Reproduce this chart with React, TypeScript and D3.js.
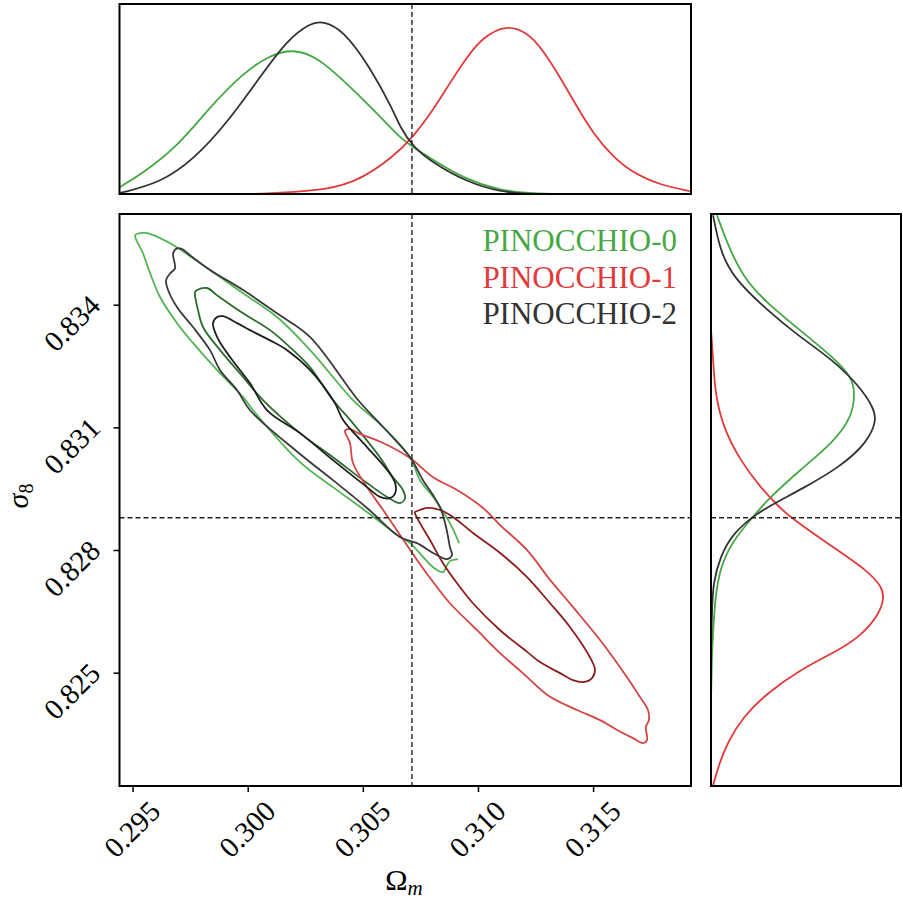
import React from "react";
import * as d3 from "d3";

// reference cosmology (dashed lines)
const omegaTrue = 0.30711;
const sigmaTrue = 0.8288;

const xTicks = [0.295, 0.3, 0.305, 0.31, 0.315];
const yTicks = [0.825, 0.828, 0.831, 0.834];

const labels = ["PINOCCHIO-0", "PINOCCHIO-1", "PINOCCHIO-2"];
const colors = ["#45a845", "#e23a3a", "#333333"];
const outerColors = ["#52b552", "#d44444", "#3a3a3a"];
const innerColors = ["#2c6c2c", "#8c1d1d", "#1e1e1e"];

// 2D contours [Omega_m, sigma_8]
const green95 = [
  [0.30916, 0.82818], [0.30876, 0.82867], [0.30803, 0.82931], [0.30746, 0.82972],
  [0.30703, 0.83028], [0.30586, 0.83102], [0.30455, 0.83168], [0.30269, 0.8329],
  [0.30125, 0.83371], [0.29978, 0.83429], [0.29834, 0.83486], [0.29674, 0.83547],
  [0.29617, 0.83564], [0.29561, 0.83576], [0.2953, 0.83576], [0.29509, 0.83571],
  [0.29543, 0.83527], [0.29574, 0.83478], [0.29617, 0.8342], [0.29691, 0.83356],
  [0.29761, 0.83307], [0.29865, 0.83241], [0.29978, 0.83175], [0.30021, 0.83143],
  [0.30225, 0.83016], [0.30368, 0.82955], [0.30516, 0.82894], [0.30659, 0.82833],
  [0.30703, 0.82818], [0.30803, 0.82759], [0.30846, 0.82747], [0.30863, 0.82764],
  [0.30876, 0.82774], [0.30911, 0.82779],
];
const green68 = [
  [0.29778, 0.83437], [0.29821, 0.83442], [0.29865, 0.83424], [0.29978, 0.8338],
  [0.30095, 0.83339], [0.30195, 0.8329], [0.30269, 0.83248], [0.30368, 0.83168],
  [0.30455, 0.83111], [0.30572, 0.83028], [0.30629, 0.82979], [0.30672, 0.82948],
  [0.30681, 0.82928], [0.30659, 0.82916], [0.30603, 0.82931], [0.30516, 0.82965],
  [0.30368, 0.83028], [0.30225, 0.83087], [0.30064, 0.83168], [0.29978, 0.83224],
  [0.29878, 0.8329], [0.29804, 0.83346], [0.29782, 0.83388], [0.29769, 0.83432],
];
const black95 = [
  [0.29691, 0.83539], [0.29713, 0.83537], [0.29747, 0.83522], [0.29834, 0.83486],
  [0.29978, 0.83437], [0.30125, 0.8338], [0.30269, 0.83322], [0.30477, 0.83168],
  [0.30586, 0.83102], [0.30703, 0.83028], [0.30759, 0.82972], [0.30803, 0.82935],
  [0.30833, 0.82906], [0.30855, 0.82867], [0.30868, 0.82833], [0.30876, 0.82808],
  [0.30885, 0.82789], [0.30863, 0.82779], [0.30803, 0.82794], [0.30733, 0.82818],
  [0.30659, 0.82833], [0.30516, 0.82904], [0.30368, 0.82972], [0.30225, 0.83036],
  [0.30008, 0.83143], [0.29952, 0.83192], [0.29878, 0.83241], [0.29834, 0.8329],
  [0.29761, 0.83346], [0.29691, 0.83395], [0.29652, 0.83437], [0.29643, 0.83461],
  [0.29661, 0.83478], [0.29682, 0.8349], [0.29674, 0.83527],
];
const black68 = [
  [0.29865, 0.83371], [0.29891, 0.83373], [0.29952, 0.83356], [0.30008, 0.83339],
  [0.30095, 0.83314], [0.30169, 0.8329], [0.30269, 0.83241], [0.30377, 0.8316],
  [0.30412, 0.83119], [0.30516, 0.83053], [0.30603, 0.82997], [0.30638, 0.82965],
  [0.30638, 0.8294], [0.30616, 0.82928], [0.30572, 0.82931], [0.30516, 0.82955],
  [0.30368, 0.83021], [0.30225, 0.83087], [0.30082, 0.83143], [0.30008, 0.83209],
  [0.29921, 0.83273], [0.29865, 0.83322], [0.29847, 0.83356],
];
const red95 = [
  [0.30421, 0.83094], [0.30442, 0.83097], [0.30477, 0.83087], [0.30586, 0.83063],
  [0.30703, 0.83026], [0.30803, 0.82979], [0.30907, 0.82948], [0.3102, 0.82904],
  [0.31094, 0.82862], [0.31211, 0.82801], [0.31311, 0.82728], [0.3141, 0.82662],
  [0.31528, 0.82581], [0.31645, 0.8249], [0.31701, 0.82442], [0.31736, 0.8241],
  [0.3174, 0.82385], [0.31727, 0.82368], [0.31732, 0.82336], [0.31714, 0.82329],
  [0.31671, 0.82341], [0.31602, 0.82361], [0.31528, 0.82385], [0.31428, 0.8241],
  [0.31311, 0.82442], [0.31193, 0.825], [0.31094, 0.82549], [0.30994, 0.82605],
  [0.30876, 0.82671], [0.30803, 0.82723], [0.30733, 0.82777], [0.30659, 0.82838],
  [0.30586, 0.82899], [0.30516, 0.82955], [0.30455, 0.83014], [0.30442, 0.83063],
  [0.30421, 0.83089],
];
const red68 = [
  [0.30724, 0.82894], [0.30746, 0.82899], [0.30777, 0.82904], [0.30833, 0.82899],
  [0.30889, 0.82882], [0.30976, 0.82843], [0.31094, 0.82794], [0.31211, 0.82735],
  [0.31311, 0.82671], [0.31397, 0.82613], [0.31484, 0.82539], [0.31506, 0.82508],
  [0.31493, 0.82488], [0.31454, 0.82478], [0.3141, 0.82483], [0.31354, 0.825],
  [0.31267, 0.82527], [0.31211, 0.82552], [0.31094, 0.82605], [0.30976, 0.82671],
  [0.30907, 0.8272], [0.30846, 0.82769], [0.3079, 0.82825], [0.30746, 0.82867],
  [0.30724, 0.82891],
];

// 1D marginals of Omega_m [Omega_m, density]
const greenOm = [
  [0.29444, 0.041], [0.29543, 0.122], [0.29691, 0.272], [0.29834, 0.504],
  [0.29978, 0.701], [0.30095, 0.805], [0.30195, 0.84], [0.30299, 0.793],
  [0.30412, 0.66], [0.30559, 0.469], [0.30659, 0.324], [0.30716, 0.272],
  [0.30803, 0.197], [0.3095, 0.081], [0.31094, 0.023], [0.31193, 0.006], [0.31354, 0.0],
];
const blackOm = [
  [0.29444, 0.006], [0.29617, 0.064], [0.29761, 0.197], [0.29908, 0.411],
  [0.30051, 0.677], [0.30169, 0.892], [0.30269, 0.99], [0.30325, 1.002],
  [0.30412, 0.95], [0.30529, 0.735], [0.30629, 0.486], [0.30659, 0.388],
  [0.30716, 0.272], [0.30803, 0.18], [0.3095, 0.069], [0.31094, 0.012], [0.31224, 0.0],
];
const redOm = [
  [0.30008, 0.0], [0.30125, 0.006], [0.30342, 0.023], [0.30486, 0.081],
  [0.30629, 0.214], [0.30716, 0.33], [0.30803, 0.486], [0.30876, 0.643],
  [0.3095, 0.793], [0.3102, 0.909], [0.3112, 0.979], [0.31211, 0.938],
  [0.3128, 0.834], [0.31354, 0.677], [0.31428, 0.504], [0.31497, 0.353],
  [0.31584, 0.214], [0.31671, 0.122], [0.31788, 0.052], [0.31918, 0.017],
];

// 1D marginals of sigma_8 [sigma_8, density]
const greenS8 = [
  [0.8362, 0.035], [0.83552, 0.093], [0.83468, 0.185], [0.83405, 0.324],
  [0.83339, 0.515], [0.83273, 0.706], [0.83224, 0.816], [0.83185, 0.834],
  [0.83126, 0.816], [0.83063, 0.706], [0.82997, 0.515], [0.82923, 0.324],
  [0.82882, 0.243], [0.82825, 0.127], [0.82759, 0.052], [0.82679, 0.023],
  [0.82598, 0.012], [0.82556, 0.006], [0.82434, 0.0],
];
const blackS8 = [
  [0.8362, 0.012], [0.83534, 0.052], [0.83468, 0.127], [0.83388, 0.324],
  [0.83322, 0.515], [0.83266, 0.706], [0.832, 0.863], [0.83151, 0.938],
  [0.83119, 0.961], [0.83063, 0.903], [0.83004, 0.747], [0.82948, 0.515],
  [0.82923, 0.4], [0.82891, 0.266], [0.82843, 0.127], [0.82784, 0.052],
  [0.8272, 0.012], [0.82654, 0.006], [0.82556, 0.0],
];
const redS8 = [
  [0.83339, 0.0], [0.83273, 0.012], [0.83185, 0.023], [0.83102, 0.069],
  [0.83021, 0.168], [0.82955, 0.284], [0.82904, 0.4], [0.82882, 0.457],
  [0.82808, 0.706], [0.82752, 0.903], [0.82711, 0.99], [0.82686, 1.002],
  [0.82647, 0.979], [0.82588, 0.863], [0.82549, 0.706], [0.82508, 0.515],
  [0.82451, 0.324], [0.82393, 0.185], [0.82329, 0.093], [0.8227, 0.041], [0.82226, 0.012],
];

const main = { left: 119.5, right: 691, top: 214, bottom: 786 };
const top = { top: 4, bottom: 194 };
const side = { left: 711, right: 901 };
const font = "'Liberation Serif', 'DejaVu Serif', serif";

const x = d3.scaleLinear().domain([0.29441, 0.31923]).range([main.left, main.right]);
const y = d3.scaleLinear().domain([0.82224, 0.83623]).range([main.bottom, main.top]);
const pTop = d3.scaleLinear().domain([0, 1.1]).range([top.bottom, top.top]);
const pSide = d3.scaleLinear().domain([0, 1.1]).range([side.left, side.right]);

const closed = d3.line<number[]>().x(d => x(d[0])).y(d => y(d[1])).curve(d3.curveCatmullRomClosed.alpha(0.5));
const open = d3.line<number[]>().x(d => x(d[0])).y(d => y(d[1])).curve(d3.curveCatmullRom.alpha(0.5));
const topLine = d3.line<number[]>().x(d => x(d[0])).y(d => pTop(d[1])).curve(d3.curveBasis);
const sideLine = d3.line<number[]>().x(d => pSide(d[1])).y(d => y(d[0])).curve(d3.curveBasis);

const App = () => {
  const W = 903, H = 901;
  return (
    <svg width={W} height={H} style={{ position: "absolute", left: 0, top: 0, background: "#fff" }}>
      <defs>
        <clipPath id="cMain"><rect x={main.left} y={main.top} width={main.right - main.left} height={main.bottom - main.top} /></clipPath>
        <clipPath id="cTop"><rect x={main.left} y={top.top} width={main.right - main.left} height={top.bottom - top.top} /></clipPath>
        <clipPath id="cSide"><rect x={side.left} y={main.top} width={side.right - side.left} height={main.bottom - main.top} /></clipPath>
      </defs>

      {/* top marginal */}
      <g clipPath="url(#cTop)" fill="none" strokeWidth={1.8}>
        <path d={topLine(greenOm) || ""} stroke={colors[0]} />
        <path d={topLine(redOm) || ""} stroke={colors[1]} />
        <path d={topLine(blackOm) || ""} stroke={colors[2]} />
        <line x1={x(omegaTrue)} x2={x(omegaTrue)} y1={top.top} y2={top.bottom} stroke="#222" strokeWidth={1.4} strokeDasharray="5,3" />
      </g>
      <rect x={main.left} y={top.top} width={main.right - main.left} height={top.bottom - top.top} fill="none" stroke="#000" strokeWidth={2} />

      {/* side marginal */}
      <g clipPath="url(#cSide)" fill="none" strokeWidth={1.8}>
        <path d={sideLine(greenS8) || ""} stroke={colors[0]} />
        <path d={sideLine(redS8) || ""} stroke={colors[1]} />
        <path d={sideLine(blackS8) || ""} stroke={colors[2]} />
        <line x1={side.left} x2={side.right} y1={y(sigmaTrue)} y2={y(sigmaTrue)} stroke="#222" strokeWidth={1.4} strokeDasharray="5,3" />
      </g>
      <rect x={side.left} y={main.top} width={side.right - side.left} height={main.bottom - main.top} fill="none" stroke="#000" strokeWidth={2} />

      {/* 2D contours */}
      <g clipPath="url(#cMain)" fill="none" strokeWidth={1.8}>
        <path d={open(green95) || ""} stroke={outerColors[0]} />
        <path d={closed(green68) || ""} stroke={innerColors[0]} />
        <path d={closed(red95) || ""} stroke={outerColors[1]} />
        <path d={closed(red68) || ""} stroke={innerColors[1]} />
        <path d={closed(black95) || ""} stroke={outerColors[2]} />
        <path d={closed(black68) || ""} stroke={innerColors[2]} />
        <line x1={x(omegaTrue)} x2={x(omegaTrue)} y1={main.top} y2={main.bottom} stroke="#222" strokeWidth={1.4} strokeDasharray="5,3" />
        <line x1={main.left} x2={main.right} y1={y(sigmaTrue)} y2={y(sigmaTrue)} stroke="#222" strokeWidth={1.4} strokeDasharray="5,3" />
      </g>
      <rect x={main.left} y={main.top} width={main.right - main.left} height={main.bottom - main.top} fill="none" stroke="#000" strokeWidth={2} />

      {/* legend */}
      {labels.map((l, i) => (
        <text key={l} x={677} y={251 + i * 36.5} textAnchor="end" fontFamily={font} fontSize={31} fill={colors[i]}>{l}</text>
      ))}

      {/* x axis */}
      {xTicks.map(t => (
        <g key={t}>
          <line x1={x(t)} x2={x(t)} y1={main.bottom} y2={main.bottom + 6} stroke="#000" strokeWidth={1.5} />
          <text transform={`translate(${x(t) + 29},${813}) rotate(-45)`} textAnchor="end" fontFamily={font} fontSize={29}>{t.toFixed(3)}</text>
        </g>
      ))}
      <text x={404} y={890} textAnchor="middle" fontFamily={font} fontSize={30}>
        Ω<tspan fontStyle="italic" fontSize={21} dy={5}>m</tspan>
      </text>

      {/* y axis */}
      {yTicks.map(t => (
        <g key={t}>
          <line x1={main.left - 6} x2={main.left} y1={y(t)} y2={y(t)} stroke="#000" strokeWidth={1.5} />
          <text transform={`translate(${102},${y(t) + 2}) rotate(-45)`} textAnchor="end" fontFamily={font} fontSize={29}>{t.toFixed(3)}</text>
        </g>
      ))}
      <text transform="translate(28,496) rotate(-90)" textAnchor="middle" fontFamily={font} fontSize={30}>
        <tspan fontStyle="italic">σ</tspan><tspan fontSize={20} dy={5}>8</tspan>
      </text>
    </svg>
  );
};

export default App;
